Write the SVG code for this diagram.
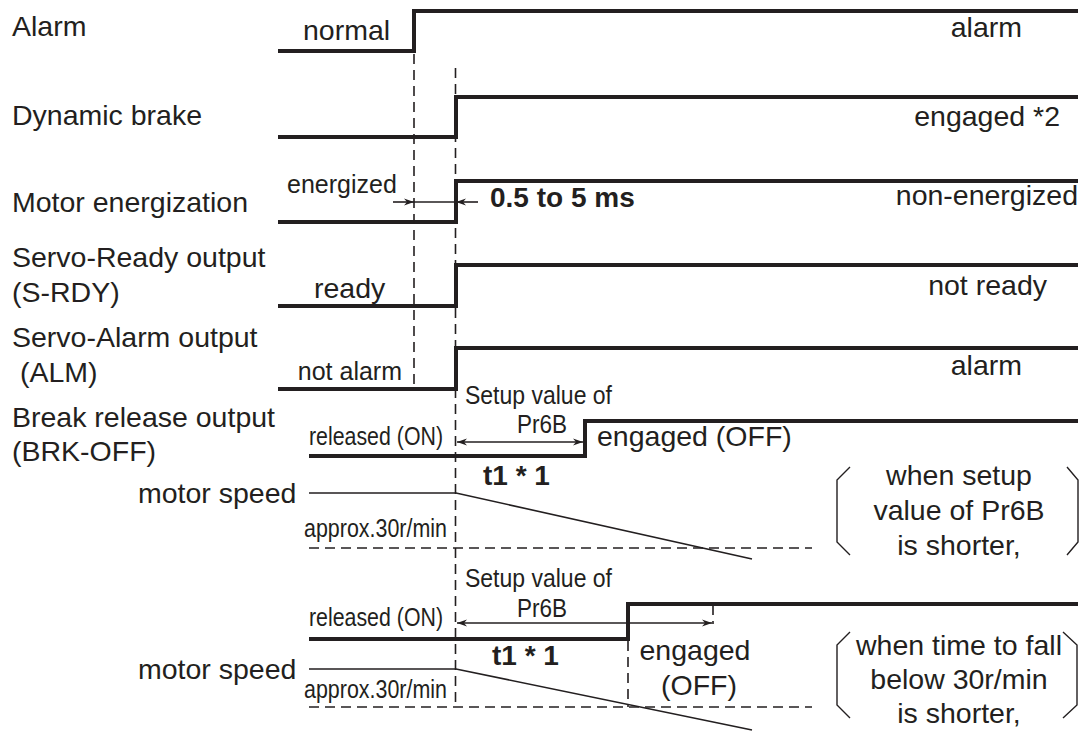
<svg xmlns="http://www.w3.org/2000/svg" width="1081" height="736" viewBox="0 0 1081 736">
<style>
text{font-family:"Liberation Sans",Arial,sans-serif;fill:#231f20;font-size:28.5px}
.b{font-weight:bold;font-size:28px}
.n{font-size:26px}
.sm{font-size:25px}
.e{text-anchor:end}
.m{text-anchor:middle}
.sig{fill:none;stroke:#231f20;stroke-width:4;stroke-linejoin:miter}
.thin{fill:none;stroke:#231f20;stroke-width:1.6}
.dash{fill:none;stroke:#231f20;stroke-width:1.6;stroke-dasharray:10 6}
.br{fill:none;stroke:#231f20;stroke-width:1.4}
</style>
<defs>
<marker id="ah" viewBox="0 0 10 10" refX="10" refY="5" markerWidth="10" markerHeight="10" markerUnits="userSpaceOnUse" orient="auto-start-reverse">
<path d="M0,1.5 L10,5 L0,8.5 L3,5 z" fill="#231f20"/>
</marker>
</defs>
<rect width="1081" height="736" fill="#fff"/>

<g id="labels">
<text x="12" y="36">Alarm</text>
<text x="12" y="125">Dynamic brake</text>
<text x="12" y="212">Motor energization</text>
<text x="12" y="267">Servo-Ready output</text>
<text x="12" y="302">(S-RDY)</text>
<text x="12" y="347">Servo-Alarm output</text>
<text x="12" y="382" xml:space="preserve"> (ALM)</text>
<text x="12" y="427">Break release output</text>
<text x="12" y="461">(BRK-OFF)</text>
<text x="138" y="503">motor speed</text>
<text x="138" y="679">motor speed</text>
</g>

<g id="alarm">
<path class="sig" d="M278,51 H414 V11 H1078"/>
<text x="303" y="40">normal</text>
<text class="e" x="1022" y="37">alarm</text>
</g>

<g id="dynamic-brake">
<path class="sig" d="M278,137 H456 V97 H1078"/>
<text class="e" x="1060" y="126">engaged *2</text>
</g>

<g id="motor-energization">
<path class="sig" d="M278,222 H456 V181 H1078"/>
<text class="sm" x="287" y="193">energized</text>
<text class="e" x="1078" y="205">non-energized</text>
<text class="b" x="490" y="207">0.5 to 5 ms</text>
</g>

<g id="servo-ready">
<path class="sig" d="M278,306 H456 V265 H1078"/>
<text x="314" y="298">ready</text>
<text class="e" x="1047" y="295">not ready</text>
</g>

<g id="servo-alarm">
<path class="sig" d="M278,389 H456 V348 H1078"/>
<text class="sm e" x="402" y="380">not alarm</text>
<text class="e" x="1022" y="375">alarm</text>
</g>

<g id="brk-off-1">
<path class="sig" d="M309,456 H585 V421 H1078"/>
<text class="n" x="465" y="404" textLength="147" lengthAdjust="spacingAndGlyphs">Setup value of</text>
<text class="n" x="517" y="433" textLength="50" lengthAdjust="spacingAndGlyphs">Pr6B</text>
<text class="n" x="309" y="445" textLength="134" lengthAdjust="spacingAndGlyphs">released (ON)</text>
<text x="597" y="446">engaged (OFF)</text>
<text class="b" x="483" y="485">t1 * 1</text>
</g>

<g id="motor-speed-1">
<path class="thin" d="M309,493 H456 L752,559"/>
<text class="n" x="304" y="537" textLength="143" lengthAdjust="spacingAndGlyphs">approx.30r/min</text>
</g>

<g id="brk-off-2">
<path class="sig" d="M309,639 H628 V604 H1078"/>
<text class="n" x="465" y="587" textLength="147" lengthAdjust="spacingAndGlyphs">Setup value of</text>
<text class="n" x="517" y="617" textLength="50" lengthAdjust="spacingAndGlyphs">Pr6B</text>
<text class="n" x="309" y="626" textLength="134" lengthAdjust="spacingAndGlyphs">released (ON)</text>
<text class="m" x="695" y="660">engaged</text>
<text class="m" x="699" y="695">(OFF)</text>
<text class="b" x="492" y="665">t1 * 1</text>
</g>

<g id="motor-speed-2">
<path class="thin" d="M309,669 H456 L752,730"/>
<text class="n" x="304" y="698" textLength="143" lengthAdjust="spacingAndGlyphs">approx.30r/min</text>
</g>

<g id="note-1">
<path class="br" d="M850,467 L837,480 V542 L850,555"/>
<path class="br" d="M1067,467 L1078,480 V542 L1067,555"/>
<text class="m" x="959" y="485">when setup</text>
<text class="m" x="959" y="520">value of Pr6B</text>
<text class="m" x="959" y="555">is shorter,</text>
</g>

<g id="note-2">
<path class="br" d="M850,632 L837,645 V705 L850,718"/>
<path class="br" d="M1063,632 L1077,645 V705 L1063,718"/>
<text class="m" x="959" y="655">when time to fall</text>
<text class="m" x="959" y="689">below 30r/min</text>
<text class="m" x="959" y="723">is shorter,</text>
</g>

<g id="connectors">
<path class="dash" d="M414,54 V385"/>
<path class="dash" d="M455.5,68 V708"/>
<path class="dash" d="M628,641 V707"/>
<path class="dash" d="M713,605 V624"/>
<path class="dash" d="M309,548 H812"/>
<path class="dash" d="M309,707 H812"/>
<path class="thin" d="M393,202 H414" marker-end="url(#ah)"/>
<path class="thin" d="M414,202 H456"/>
<path class="thin" d="M478,202 H456" marker-end="url(#ah)"/>
<path class="thin" d="M457,442 H583" marker-start="url(#ah)" marker-end="url(#ah)"/>
<path class="thin" d="M457,623 H712" marker-start="url(#ah)" marker-end="url(#ah)"/>
</g>
</svg>
